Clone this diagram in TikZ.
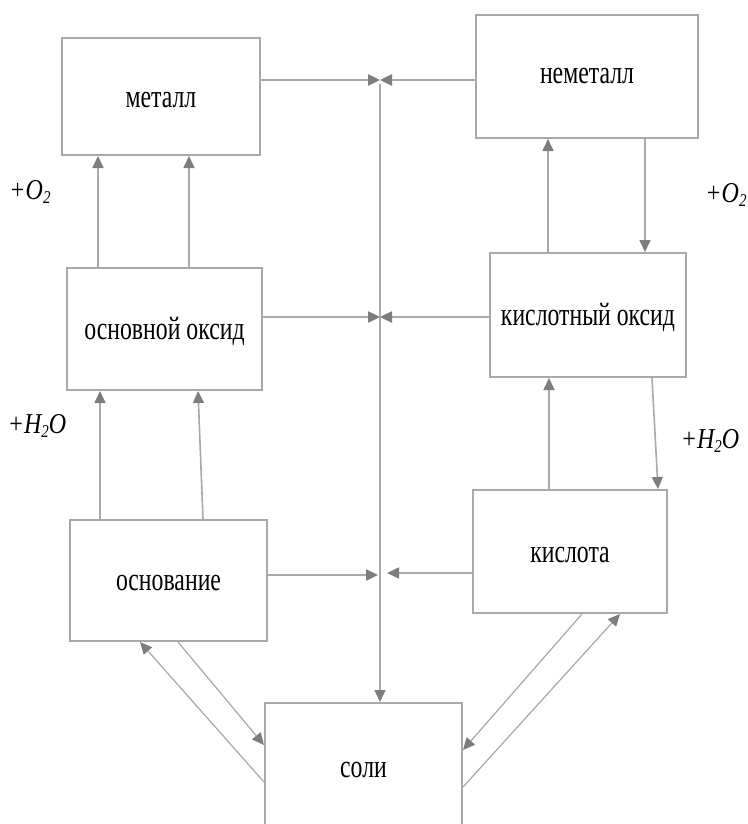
\documentclass[tikz,border=0pt]{standalone}
\usepackage{fontspec}
\setmainfont{Liberation Serif}
\usetikzlibrary{arrows.meta,calc}
\definecolor{lineg}{RGB}{168,168,168}
\definecolor{tipg}{RGB}{125,125,125}
\newcommand\vtxt[1]{\scalebox{0.95}[1.3]{#1}}
\newcommand\labtxt[1]{\scalebox{1}[1.2]{\itshape #1}}
\tikzset{
  box/.style={draw=lineg, line width=2pt, fill=white, inner sep=0pt},
  conn/.style={draw=lineg, line width=1.6pt,
    -{Triangle[length=12pt,width=11pt,color=tipg]}},
  hconn/.style={conn, line width=2.4pt},
  thin/.style={conn, line width=1.2pt},
  lab/.style={font=\fontsize{25}{29}\selectfont, inner sep=0pt, text=black},
  side/.style={font=\fontsize{24}{28}\selectfont, inner sep=0pt, text=black},
}
\begin{document}
\begin{tikzpicture}[x=1pt,y=-1pt]
\useasboundingbox (0,0) rectangle (747,824);
\clip (0,0) rectangle (747,824);
\fill[white] (0,0) rectangle (747,824);
% boxes
\node[box, minimum width=198pt, minimum height=117pt] (met) at (161,96.5) {};
\node[lab] (tmet) at (161,100) {\vtxt{металл}};
\node[box, minimum width=222pt, minimum height=123pt] (nonmet) at (587,76.5) {};
\node[lab] (tnonmet) at (587,76) {\vtxt{неметалл}};
\node[box, minimum width=195pt, minimum height=122pt] (boxid) at (164.5,329) {};
\node[lab] (tboxid) at (164.5,332) {\vtxt{основной оксид}};
\node[box, minimum width=196pt, minimum height=124pt] (acox) at (588,315) {};
\node[lab] (tacox) at (588,318) {\vtxt{кислотный оксид}};
\node[box, minimum width=197pt, minimum height=121pt] (base) at (168.5,580.5) {};
\node[lab] (tbase) at (168.5,583) {\vtxt{основание}};
\node[box, minimum width=194pt, minimum height=123pt] (acid) at (570,551.5) {};
\node[lab] (tacid) at (570,555) {\vtxt{кислота}};
\node[box, minimum width=197pt, minimum height=137pt] (salt) at (363.5,771.5) {};
\node[lab] (tsalt) at (363.5,770) {\vtxt{соли}};
% junction coordinates
\coordinate (ctop) at (380,80);
\coordinate (cmid) at (380,317);
\coordinate (cbl) at (378,575);
\coordinate (cbr) at (387,573);
\coordinate (vstart) at (380,84);
% central horizontal arrows
\draw[hconn] (met.east |- ctop) -- (ctop);
\draw[hconn] (nonmet.west |- ctop) -- (ctop);
\draw[hconn] (boxid.east |- cmid) -- (cmid);
\draw[hconn] (acox.west |- cmid) -- (cmid);
\draw[hconn] (base.east |- cbl) -- (cbl);
\draw[conn] (acid.west |- cbr) -- (cbr);
% central vertical
\draw[thin] (vstart) -- (vstart |- salt.north);
% left column
\draw[conn] ([xshift=-66.5pt]boxid.north) -- ([xshift=-66.5pt]boxid.north |- met.south);
\draw[conn] ([xshift=24.5pt]boxid.north) -- ([xshift=24.5pt]boxid.north |- met.south);
\draw[conn] ([xshift=-68.5pt]base.north) -- ([xshift=-68.5pt]base.north |- boxid.south);
\draw[conn] ([xshift=34.5pt]base.north) -- ([xshift=33.5pt]boxid.south);
% right column
\draw[conn] ([xshift=-40pt]acox.north) -- ([xshift=-40pt]acox.north |- nonmet.south);
\draw[conn] ([xshift=58pt]nonmet.south) -- ([xshift=57pt]acox.north);
\draw[conn] ([xshift=-21pt]acid.north) -- ([xshift=-21pt]acid.north |- acox.south);
\draw[conn] ([xshift=64pt]acox.south) -- ([xshift=88pt]acid.north);
% diagonals
\draw[thin] ([yshift=-10.5pt]salt.west) -- ([xshift=-28.5pt]base.south);
\draw[thin] ([xshift=9.5pt]base.south) -- ([yshift=26.5pt]salt.west);
\draw[thin] ([xshift=12pt]acid.south) -- ([yshift=21.5pt]salt.east);
\draw[thin] ([yshift=-15.5pt]salt.east) -- ([xshift=50pt]acid.south);
% labels
\node[side] (l1) at (30,192) {\labtxt{+O\kern0.3pt\raisebox{-0.12em}{\fontsize{15}{15}\selectfont 2}}};
\node[side] (l2) at (37,426) {\labtxt{+H\raisebox{-0.12em}{\fontsize{15}{15}\selectfont 2}O}};
\node[side] (l3) at (726,195) {\labtxt{+O\kern0.3pt\raisebox{-0.12em}{\fontsize{15}{15}\selectfont 2}}};
\node[side] (l4) at (710,441) {\labtxt{+H\raisebox{-0.12em}{\fontsize{15}{15}\selectfont 2}O}};
\end{tikzpicture}
\end{document}
